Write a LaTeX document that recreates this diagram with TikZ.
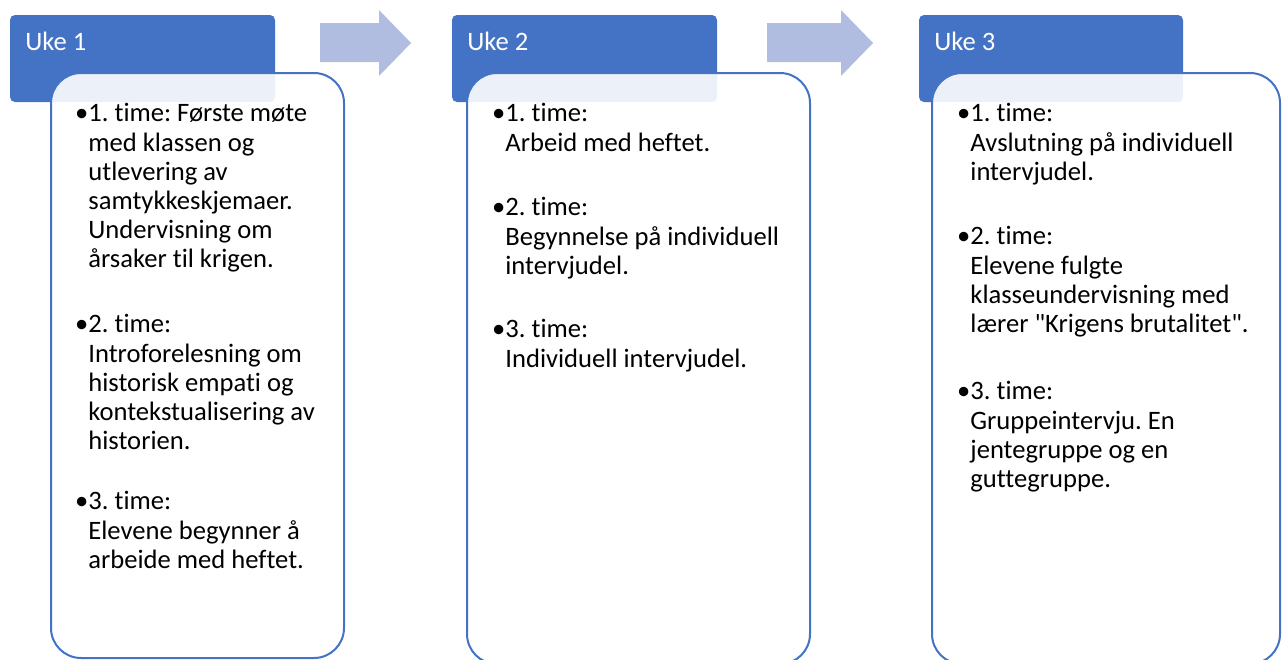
\documentclass[tikz,border=0pt]{standalone}
\usepackage{fontspec}
\setmainfont{Carlito}[Ligatures={TeX,CommonOff}]
\usepackage{xcolor}
\usepackage{tikz}

\definecolor{ukeblue}{HTML}{4472C4}
\definecolor{pilblue}{HTML}{B0BCE0}
\newcommand{\prikk}{\strut\llap{\textbullet}}
\frenchspacing

\begin{document}
\begin{tikzpicture}[x=0.5pt,y=-0.5pt,
	uke/.style={fill=ukeblue, rounded corners=2.5pt},
	kort/.style={draw=ukeblue, line width=1pt, fill=white, fill opacity=0.9, rounded corners=15pt},
	pil/.style={fill=pilblue},
	tittel/.style={text=white, anchor=base west, inner sep=0pt, font=\fontsize{13.3}{16}\selectfont},
	punkt/.style={anchor=north west, inner sep=0pt, align=left, font=\fontsize{13.3}{14.6}\selectfont}]
			\useasboundingbox (0,0) rectangle (1285,659);
			\clip (0,0) rectangle (1285,659);
			
			\fill[pil] (320,23) -- (379,23) -- (379,10) -- (411,43) -- (379,76) -- (379,62) -- (320,62) -- cycle;
			\fill[pil] (767,23) -- (841,23) -- (841,10) -- (873,43) -- (841,76) -- (841,62) -- (767,62) -- cycle;
			
			\fill[uke] (10,15) rectangle (275,102);
			\fill[uke] (452,15) rectangle (717,102);
			\fill[uke] (919,15) rectangle (1183,102);
			
			\draw (25,50) node[tittel] (h1) {Uke 1};
			\draw (467,50) node[tittel] (h2) {Uke 2};
			\draw (934,50) node[tittel] (h3) {Uke 3};
			
			\draw[kort] (51,73) rectangle (344,658);
			\draw[kort] (467,73) rectangle (810,664);
			\draw[kort] (932,73) rectangle (1280,664);
			
			% uke 1 (y = grunnlinje - 20)
			\draw (88,101) node[punkt] (u1a) {\prikk 1. time: Første møte\\med klassen og\\utlevering av\\samtykkeskjemaer.\\Undervisning om\\årsaker til krigen.};
			\draw (88,312) node[punkt] (u1b) {\prikk 2. time:\\Introforelesning om\\historisk empati og\\kontekstualisering av\\historien.};
			\draw (88,489) node[punkt] (u1c) {\prikk 3. time:\\Elevene begynner å\\arbeide med heftet.};
			
			% uke 2
			\draw (505,101) node[punkt] (u2a) {\prikk 1. time:\\Arbeid med heftet.};
			\draw (505,195) node[punkt] (u2b) {\prikk 2. time:\\Begynnelse på individuell\\intervjudel.};
			\draw (505,317) node[punkt] (u2c) {\prikk 3. time:\\Individuell intervjudel.};
			
			% uke 3
			\draw (970,101) node[punkt] (u3a) {\prikk 1. time:\\Avslutning på individuell\\intervjudel.};
			\draw (970,224) node[punkt] (u3b) {\prikk 2. time:\\Elevene fulgte\\klasseundervisning med\\lærer \textquotedbl Krigens brutalitet\textquotedbl.};
			\draw (970,379) node[punkt] (u3c) {\prikk 3. time:\\Gruppeintervju. En\\jentegruppe og en\\guttegruppe.};
		\end{tikzpicture}
\end{document}
